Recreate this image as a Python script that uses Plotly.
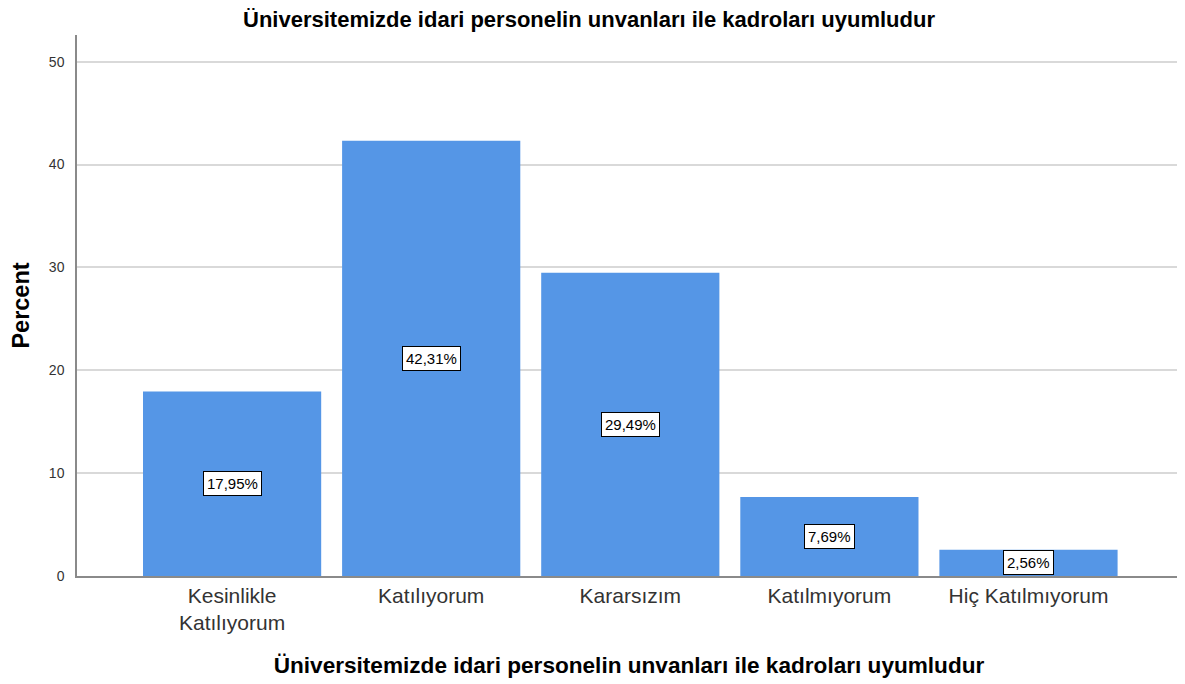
import plotly.graph_objects as go

categories = ["Kesinlikle<br>Katılıyorum", "Katılıyorum", "Kararsızım", "Katılmıyorum", "Hiç Katılmıyorum"]
percents = [17.95, 42.31, 29.49, 7.69, 2.56]
labels = ["17,95%", "42,31%", "29,49%", "7,69%", "2,56%"]
title = "Üniversitemizde idari personelin unvanları ile kadroları uyumludur"

W, H = 1177, 676

fig = go.Figure()
fig.add_trace(go.Bar(
    x=list(range(len(categories))), y=percents,
    marker=dict(color="#5596E6", line=dict(width=0)),
    width=0.895, hoverinfo="skip",
))

for i, (v, t) in enumerate(zip(percents, labels)):
    fig.add_annotation(
        x=i, y=v / 2, text=t, showarrow=False,
        font=dict(family="Liberation Sans, Arial", size=15, color="black"),
        bgcolor="white", bordercolor="black", borderwidth=1, borderpad=3,
    )

fig.update_layout(
    width=W, height=H,
    margin=dict(l=69, r=4, t=27, b=108),
    paper_bgcolor="white", plot_bgcolor="white",
    showlegend=False,
    font=dict(family="Liberation Sans, Arial", color="black"),
    title=dict(text="<b>" + title + "</b>", x=581 / W, xanchor="center",
               y=1 - 11 / H, yanchor="middle", xref="container",
               font=dict(size=22, color="black")),
    xaxis=dict(
        tickmode="array", tickvals=list(range(len(categories))), ticktext=categories,
        range=[-0.779, 4.766], showgrid=False, zeroline=False, automargin=False,
        showline=True, linecolor="#8a8a8a", linewidth=1.5, ticks="",
        tickfont=dict(size=21, color="#333333"),
        title=dict(text="<b>" + title + "</b>", font=dict(size=22.6, color="black"), standoff=24),
    ),
    yaxis=dict(
        range=[0, 52.6], tickvals=[0, 10, 20, 30, 40, 50], automargin=False,
        showgrid=True, gridcolor="#d9d9d9", gridwidth=1.5, zeroline=False,
        showline=True, linecolor="#8a8a8a", linewidth=1.5, ticks="",
        tickfont=dict(size=14, color="#333333"), ticklabelstandoff=8,
        title=dict(text="<b>Percent</b>", font=dict(size=23.5, color="black"), standoff=22),
    ),
)

fig.write_html("out.html")
